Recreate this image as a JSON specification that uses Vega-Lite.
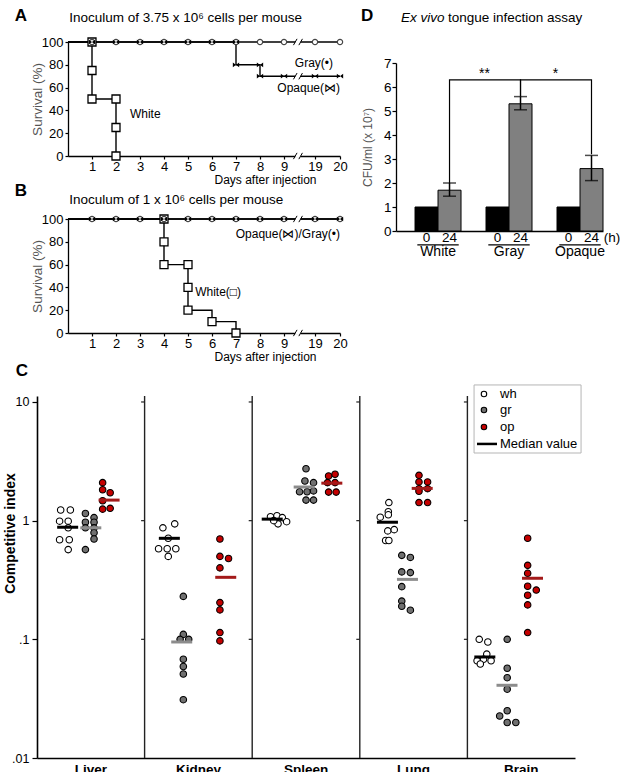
{
  "$schema": "https://vega.github.io/schema/vega-lite/v6.json",
  "background": "white",
  "padding": {"left": 3, "top": 6, "right": 0, "bottom": 0},
  "config": {
    "font": "Liberation Sans",
    "view": {"stroke": null},
    "axis": {"grid": false, "domainColor": "black", "tickColor": "black", "labelColor": "black", "titleColor": "black", "labelFont": "Liberation Sans", "titleFont": "Liberation Sans", "domainWidth": 1.3, "tickWidth": 1.2, "labelOverlap": false},
    "text": {"font": "Liberation Sans", "color": "black"}
  },
  "datasets": {
    "survA_steps": [
      {"strain": "White", "seq": 1, "day": 0, "pct": 100},
      {"strain": "White", "seq": 2, "day": 1, "pct": 100},
      {"strain": "White", "seq": 3, "day": 1, "pct": 50},
      {"strain": "White", "seq": 4, "day": 2, "pct": 50},
      {"strain": "White", "seq": 5, "day": 2, "pct": 0},
      {"strain": "Gray", "seq": 1, "day": 0, "pct": 100},
      {"strain": "Gray", "seq": 2, "day": 20, "pct": 100},
      {"strain": "Opaque", "seq": 1, "day": 0, "pct": 100},
      {"strain": "Opaque", "seq": 2, "day": 7, "pct": 100},
      {"strain": "Opaque", "seq": 3, "day": 7, "pct": 80},
      {"strain": "Opaque", "seq": 4, "day": 8, "pct": 80},
      {"strain": "Opaque", "seq": 5, "day": 8, "pct": 70},
      {"strain": "Opaque", "seq": 6, "day": 20, "pct": 70}
    ],
    "survA_obs": [
      {"strain": "White", "day": 1, "pct": 100},
      {"strain": "White", "day": 1, "pct": 75},
      {"strain": "White", "day": 1, "pct": 50},
      {"strain": "White", "day": 2, "pct": 50},
      {"strain": "White", "day": 2, "pct": 25},
      {"strain": "White", "day": 2, "pct": 0},
      {"strain": "Gray", "day": 1, "pct": 100},
      {"strain": "Gray", "day": 2, "pct": 100},
      {"strain": "Gray", "day": 3, "pct": 100},
      {"strain": "Gray", "day": 4, "pct": 100},
      {"strain": "Gray", "day": 5, "pct": 100},
      {"strain": "Gray", "day": 6, "pct": 100},
      {"strain": "Gray", "day": 7, "pct": 100},
      {"strain": "Gray", "day": 8, "pct": 100},
      {"strain": "Gray", "day": 9, "pct": 100},
      {"strain": "Gray", "day": 19, "pct": 100},
      {"strain": "Gray", "day": 20, "pct": 100},
      {"strain": "Opaque", "day": 1, "pct": 100},
      {"strain": "Opaque", "day": 2, "pct": 100},
      {"strain": "Opaque", "day": 3, "pct": 100},
      {"strain": "Opaque", "day": 4, "pct": 100},
      {"strain": "Opaque", "day": 5, "pct": 100},
      {"strain": "Opaque", "day": 6, "pct": 100},
      {"strain": "Opaque", "day": 7, "pct": 100},
      {"strain": "Opaque", "day": 7, "pct": 80},
      {"strain": "Opaque", "day": 8, "pct": 80},
      {"strain": "Opaque", "day": 8, "pct": 70},
      {"strain": "Opaque", "day": 9, "pct": 70},
      {"strain": "Opaque", "day": 19, "pct": 70},
      {"strain": "Opaque", "day": 20, "pct": 70}
    ],
    "survA_breaks": [
      {"day": 13.5, "pct": 0},
      {"day": 13.5, "pct": 70},
      {"day": 13.5, "pct": 100}
    ],
    "survB_steps": [
      {"strain": "White", "seq": 1, "day": 0, "pct": 100},
      {"strain": "White", "seq": 2, "day": 4, "pct": 100},
      {"strain": "White", "seq": 3, "day": 4, "pct": 60},
      {"strain": "White", "seq": 4, "day": 5, "pct": 60},
      {"strain": "White", "seq": 5, "day": 5, "pct": 20},
      {"strain": "White", "seq": 6, "day": 6, "pct": 20},
      {"strain": "White", "seq": 7, "day": 6, "pct": 10},
      {"strain": "White", "seq": 8, "day": 7, "pct": 10},
      {"strain": "White", "seq": 9, "day": 7, "pct": 0},
      {"strain": "Gray", "seq": 1, "day": 0, "pct": 100},
      {"strain": "Gray", "seq": 2, "day": 20, "pct": 100},
      {"strain": "Opaque", "seq": 1, "day": 0, "pct": 100},
      {"strain": "Opaque", "seq": 2, "day": 20, "pct": 100}
    ],
    "survB_obs": [
      {"strain": "White", "day": 4, "pct": 100},
      {"strain": "White", "day": 4, "pct": 80},
      {"strain": "White", "day": 4, "pct": 60},
      {"strain": "White", "day": 5, "pct": 60},
      {"strain": "White", "day": 5, "pct": 40},
      {"strain": "White", "day": 5, "pct": 20},
      {"strain": "White", "day": 6, "pct": 10},
      {"strain": "White", "day": 7, "pct": 0},
      {"strain": "Gray", "day": 1, "pct": 100},
      {"strain": "Gray", "day": 2, "pct": 100},
      {"strain": "Gray", "day": 3, "pct": 100},
      {"strain": "Gray", "day": 4, "pct": 100},
      {"strain": "Gray", "day": 5, "pct": 100},
      {"strain": "Gray", "day": 6, "pct": 100},
      {"strain": "Gray", "day": 7, "pct": 100},
      {"strain": "Gray", "day": 8, "pct": 100},
      {"strain": "Gray", "day": 9, "pct": 100},
      {"strain": "Gray", "day": 19, "pct": 100},
      {"strain": "Gray", "day": 20, "pct": 100},
      {"strain": "Opaque", "day": 1, "pct": 100},
      {"strain": "Opaque", "day": 2, "pct": 100},
      {"strain": "Opaque", "day": 3, "pct": 100},
      {"strain": "Opaque", "day": 4, "pct": 100},
      {"strain": "Opaque", "day": 5, "pct": 100},
      {"strain": "Opaque", "day": 6, "pct": 100},
      {"strain": "Opaque", "day": 7, "pct": 100},
      {"strain": "Opaque", "day": 8, "pct": 100},
      {"strain": "Opaque", "day": 9, "pct": 100},
      {"strain": "Opaque", "day": 19, "pct": 100},
      {"strain": "Opaque", "day": 20, "pct": 100}
    ],
    "survB_breaks": [
      {"day": 13.5, "pct": 0},
      {"day": 13.5, "pct": 100}
    ],
    "D_bars": [
      {"strain": "White", "time": "0", "cfu": 1},
      {"strain": "White", "time": "24", "cfu": 1.7, "lo": 1.45, "hi": 2.0},
      {"strain": "Gray", "time": "0", "cfu": 1},
      {"strain": "Gray", "time": "24", "cfu": 5.3, "lo": 5.05, "hi": 5.6},
      {"strain": "Opaque", "time": "0", "cfu": 1},
      {"strain": "Opaque", "time": "24", "cfu": 2.6, "lo": 2.1, "hi": 3.15}
    ],
    "D_sig": [
      {"pair": "W-G", "seq": 1, "strain": "White", "time": "24", "level": 2.0},
      {"pair": "W-G", "seq": 2, "strain": "White", "time": "24", "level": 6.3},
      {"pair": "W-G", "seq": 3, "strain": "Gray", "time": "24", "level": 6.3},
      {"pair": "W-G", "seq": 4, "strain": "Gray", "time": "24", "level": 5.6},
      {"pair": "G-O", "seq": 1, "strain": "Gray", "time": "24", "level": 5.6},
      {"pair": "G-O", "seq": 2, "strain": "Gray", "time": "24", "level": 6.3},
      {"pair": "G-O", "seq": 3, "strain": "Opaque", "time": "24", "level": 6.3},
      {"pair": "G-O", "seq": 4, "strain": "Opaque", "time": "24", "level": 3.2}
    ],
    "C_organs": [
      {"organ": "Kidney"}, {"organ": "Spleen"}, {"organ": "Lung"}, {"organ": "Brain"}
    ],
    "C_sepTicks": [
      {"organ": "Kidney", "ci": 10}, {"organ": "Kidney", "ci": 1}, {"organ": "Kidney", "ci": 0.1},
      {"organ": "Spleen", "ci": 10}, {"organ": "Spleen", "ci": 1}, {"organ": "Spleen", "ci": 0.1},
      {"organ": "Lung", "ci": 10}, {"organ": "Lung", "ci": 1}, {"organ": "Lung", "ci": 0.1},
      {"organ": "Brain", "ci": 10}, {"organ": "Brain", "ci": 1}, {"organ": "Brain", "ci": 0.1}
    ],
    "C_pts": [
      {"organ": "Liver", "strain": "wh", "ci": 1.23, "dx": 22},
      {"organ": "Liver", "strain": "wh", "ci": 1.23, "dx": 31},
      {"organ": "Liver", "strain": "wh", "ci": 0.99, "dx": 21},
      {"organ": "Liver", "strain": "wh", "ci": 0.99, "dx": 29},
      {"organ": "Liver", "strain": "wh", "ci": 0.87, "dx": 29},
      {"organ": "Liver", "strain": "wh", "ci": 0.69, "dx": 21},
      {"organ": "Liver", "strain": "wh", "ci": 0.69, "dx": 30},
      {"organ": "Liver", "strain": "wh", "ci": 0.57, "dx": 29},
      {"organ": "Liver", "strain": "gr", "ci": 1.15, "dx": 45},
      {"organ": "Liver", "strain": "gr", "ci": 1.06, "dx": 53},
      {"organ": "Liver", "strain": "gr", "ci": 0.97, "dx": 45},
      {"organ": "Liver", "strain": "gr", "ci": 0.97, "dx": 53},
      {"organ": "Liver", "strain": "gr", "ci": 0.87, "dx": 45},
      {"organ": "Liver", "strain": "gr", "ci": 0.87, "dx": 53},
      {"organ": "Liver", "strain": "gr", "ci": 0.79, "dx": 53},
      {"organ": "Liver", "strain": "gr", "ci": 0.70, "dx": 53},
      {"organ": "Liver", "strain": "gr", "ci": 0.57, "dx": 45},
      {"organ": "Liver", "strain": "op", "ci": 2.09, "dx": 61},
      {"organ": "Liver", "strain": "op", "ci": 1.82, "dx": 61},
      {"organ": "Liver", "strain": "op", "ci": 1.72, "dx": 68},
      {"organ": "Liver", "strain": "op", "ci": 1.47, "dx": 61},
      {"organ": "Liver", "strain": "op", "ci": 1.25, "dx": 61},
      {"organ": "Liver", "strain": "op", "ci": 1.27, "dx": 68},
      {"organ": "Kidney", "strain": "wh", "ci": 0.87, "dx": 17},
      {"organ": "Kidney", "strain": "wh", "ci": 0.94, "dx": 28},
      {"organ": "Kidney", "strain": "wh", "ci": 0.71, "dx": 22},
      {"organ": "Kidney", "strain": "wh", "ci": 0.58, "dx": 13},
      {"organ": "Kidney", "strain": "wh", "ci": 0.58, "dx": 21},
      {"organ": "Kidney", "strain": "wh", "ci": 0.58, "dx": 29},
      {"organ": "Kidney", "strain": "wh", "ci": 0.50, "dx": 22},
      {"organ": "Kidney", "strain": "gr", "ci": 0.23, "dx": 36},
      {"organ": "Kidney", "strain": "gr", "ci": 0.11, "dx": 36},
      {"organ": "Kidney", "strain": "gr", "ci": 0.10, "dx": 33},
      {"organ": "Kidney", "strain": "gr", "ci": 0.10, "dx": 41},
      {"organ": "Kidney", "strain": "gr", "ci": 0.068, "dx": 36},
      {"organ": "Kidney", "strain": "gr", "ci": 0.059, "dx": 36},
      {"organ": "Kidney", "strain": "gr", "ci": 0.051, "dx": 36},
      {"organ": "Kidney", "strain": "gr", "ci": 0.031, "dx": 36},
      {"organ": "Kidney", "strain": "op", "ci": 0.70, "dx": 70},
      {"organ": "Kidney", "strain": "op", "ci": 0.50, "dx": 70},
      {"organ": "Kidney", "strain": "op", "ci": 0.48, "dx": 78},
      {"organ": "Kidney", "strain": "op", "ci": 0.40, "dx": 70},
      {"organ": "Kidney", "strain": "op", "ci": 0.204, "dx": 70},
      {"organ": "Kidney", "strain": "op", "ci": 0.177, "dx": 70},
      {"organ": "Kidney", "strain": "op", "ci": 0.114, "dx": 70},
      {"organ": "Kidney", "strain": "op", "ci": 0.097, "dx": 70},
      {"organ": "Spleen", "strain": "wh", "ci": 1.08, "dx": 17},
      {"organ": "Spleen", "strain": "wh", "ci": 1.10, "dx": 23},
      {"organ": "Spleen", "strain": "wh", "ci": 1.06, "dx": 28},
      {"organ": "Spleen", "strain": "wh", "ci": 0.98, "dx": 32},
      {"organ": "Spleen", "strain": "wh", "ci": 0.94, "dx": 24},
      {"organ": "Spleen", "strain": "wh", "ci": 1.00, "dx": 20},
      {"organ": "Spleen", "strain": "gr", "ci": 2.74, "dx": 50},
      {"organ": "Spleen", "strain": "gr", "ci": 2.16, "dx": 49},
      {"organ": "Spleen", "strain": "gr", "ci": 2.09, "dx": 57},
      {"organ": "Spleen", "strain": "gr", "ci": 1.75, "dx": 44},
      {"organ": "Spleen", "strain": "gr", "ci": 1.75, "dx": 51},
      {"organ": "Spleen", "strain": "gr", "ci": 1.78, "dx": 57},
      {"organ": "Spleen", "strain": "gr", "ci": 1.49, "dx": 50},
      {"organ": "Spleen", "strain": "gr", "ci": 1.49, "dx": 57},
      {"organ": "Spleen", "strain": "op", "ci": 2.38, "dx": 71},
      {"organ": "Spleen", "strain": "op", "ci": 2.46, "dx": 77},
      {"organ": "Spleen", "strain": "op", "ci": 2.09, "dx": 70},
      {"organ": "Spleen", "strain": "op", "ci": 2.09, "dx": 77},
      {"organ": "Spleen", "strain": "op", "ci": 1.74, "dx": 71},
      {"organ": "Spleen", "strain": "op", "ci": 1.74, "dx": 78},
      {"organ": "Lung", "strain": "wh", "ci": 1.42, "dx": 27},
      {"organ": "Lung", "strain": "wh", "ci": 1.19, "dx": 26.5},
      {"organ": "Lung", "strain": "wh", "ci": 1.12, "dx": 26.5},
      {"organ": "Lung", "strain": "wh", "ci": 1.07, "dx": 19},
      {"organ": "Lung", "strain": "wh", "ci": 0.82, "dx": 26},
      {"organ": "Lung", "strain": "wh", "ci": 0.84, "dx": 32},
      {"organ": "Lung", "strain": "wh", "ci": 0.68, "dx": 24},
      {"organ": "Lung", "strain": "wh", "ci": 0.68, "dx": 27},
      {"organ": "Lung", "strain": "gr", "ci": 0.51, "dx": 39},
      {"organ": "Lung", "strain": "gr", "ci": 0.49, "dx": 47},
      {"organ": "Lung", "strain": "gr", "ci": 0.37, "dx": 39},
      {"organ": "Lung", "strain": "gr", "ci": 0.365, "dx": 47},
      {"organ": "Lung", "strain": "gr", "ci": 0.278, "dx": 39},
      {"organ": "Lung", "strain": "gr", "ci": 0.21, "dx": 39},
      {"organ": "Lung", "strain": "gr", "ci": 0.19, "dx": 39},
      {"organ": "Lung", "strain": "gr", "ci": 0.176, "dx": 47},
      {"organ": "Lung", "strain": "op", "ci": 2.41, "dx": 55},
      {"organ": "Lung", "strain": "op", "ci": 2.12, "dx": 55},
      {"organ": "Lung", "strain": "op", "ci": 2.12, "dx": 63},
      {"organ": "Lung", "strain": "op", "ci": 1.86, "dx": 55},
      {"organ": "Lung", "strain": "op", "ci": 1.86, "dx": 63},
      {"organ": "Lung", "strain": "op", "ci": 1.77, "dx": 55},
      {"organ": "Lung", "strain": "op", "ci": 1.42, "dx": 55},
      {"organ": "Lung", "strain": "op", "ci": 1.42, "dx": 63},
      {"organ": "Brain", "strain": "wh", "ci": 0.100, "dx": 11},
      {"organ": "Brain", "strain": "wh", "ci": 0.095, "dx": 19},
      {"organ": "Brain", "strain": "wh", "ci": 0.075, "dx": 18},
      {"organ": "Brain", "strain": "wh", "ci": 0.068, "dx": 15},
      {"organ": "Brain", "strain": "wh", "ci": 0.066, "dx": 9},
      {"organ": "Brain", "strain": "wh", "ci": 0.066, "dx": 22},
      {"organ": "Brain", "strain": "wh", "ci": 0.062, "dx": 12},
      {"organ": "Brain", "strain": "gr", "ci": 0.100, "dx": 37},
      {"organ": "Brain", "strain": "gr", "ci": 0.057, "dx": 37},
      {"organ": "Brain", "strain": "gr", "ci": 0.0475, "dx": 37},
      {"organ": "Brain", "strain": "gr", "ci": 0.038, "dx": 37},
      {"organ": "Brain", "strain": "gr", "ci": 0.025, "dx": 37},
      {"organ": "Brain", "strain": "gr", "ci": 0.0226, "dx": 30},
      {"organ": "Brain", "strain": "gr", "ci": 0.0199, "dx": 37},
      {"organ": "Brain", "strain": "gr", "ci": 0.0199, "dx": 45},
      {"organ": "Brain", "strain": "op", "ci": 0.71, "dx": 56},
      {"organ": "Brain", "strain": "op", "ci": 0.42, "dx": 56},
      {"organ": "Brain", "strain": "op", "ci": 0.36, "dx": 56},
      {"organ": "Brain", "strain": "op", "ci": 0.28, "dx": 56},
      {"organ": "Brain", "strain": "op", "ci": 0.26, "dx": 64},
      {"organ": "Brain", "strain": "op", "ci": 0.235, "dx": 56},
      {"organ": "Brain", "strain": "op", "ci": 0.195, "dx": 56},
      {"organ": "Brain", "strain": "op", "ci": 0.114, "dx": 56}
    ],
    "C_med": [
      {"organ": "Liver", "strain": "wh", "ci": 0.88, "dx": 28.5},
      {"organ": "Liver", "strain": "gr", "ci": 0.87, "dx": 50},
      {"organ": "Liver", "strain": "op", "ci": 1.49, "dx": 67},
      {"organ": "Kidney", "strain": "wh", "ci": 0.71, "dx": 23},
      {"organ": "Kidney", "strain": "gr", "ci": 0.095, "dx": 34.5},
      {"organ": "Kidney", "strain": "op", "ci": 0.333, "dx": 75.4},
      {"organ": "Spleen", "strain": "wh", "ci": 1.03, "dx": 18.6},
      {"organ": "Spleen", "strain": "gr", "ci": 1.92, "dx": 48.3},
      {"organ": "Spleen", "strain": "op", "ci": 2.07, "dx": 74},
      {"organ": "Lung", "strain": "wh", "ci": 0.97, "dx": 25.7},
      {"organ": "Lung", "strain": "gr", "ci": 0.32, "dx": 44.3},
      {"organ": "Lung", "strain": "op", "ci": 1.87, "dx": 58},
      {"organ": "Brain", "strain": "wh", "ci": 0.071, "dx": 16.2},
      {"organ": "Brain", "strain": "gr", "ci": 0.041, "dx": 36.8},
      {"organ": "Brain", "strain": "op", "ci": 0.327, "dx": 60.5}
    ]
  },
  "resolve": {"scale": {"xOffset": "independent", "color": "independent", "fill": "independent", "stroke": "independent"}},
  "bounds": "flush",
  "spacing": 63,
  "vconcat": [
    {
      "width": 272,
      "height": 114,
      "resolve": {"scale": {"x": "independent", "y": "independent"}, "axis": {"x": "independent", "y": "independent"}},
      "layer": [
        {
          "layer": [
            {
              "data": {"name": "survA_steps"},
              "mark": {"type": "line", "color": "black", "strokeWidth": 1.4},
              "encoding": {
                "x": {"field": "day", "type": "quantitative", "scale": {"domain": [0, 9, 19, 20], "range": [0, 216, 247, 272], "nice": false, "zero": false},
                      "axis": {"orient": "bottom", "values": [1, 2, 3, 4, 5, 6, 7, 8, 9, 19, 20], "format": "d", "tickCount": 30, "labelOverlap": false, "title": "Days after injection", "titleFontSize": 12, "titleFontWeight": "normal", "titleX": 197, "titleY": 23, "titleBaseline": "middle", "labelFontSize": 13, "tickSize": 3, "labelPadding": 1, "labelFlush": false}},
                "y": {"field": "pct", "type": "quantitative", "scale": {"domain": [0, 100], "nice": false},
                      "axis": {"orient": "left", "values": [0, 20, 40, 60, 80, 100], "format": "d", "tickCount": 30, "labelOverlap": false, "title": "Survival (%)", "titleFontSize": 13.5, "titleFontWeight": "normal", "titleColor": "#555", "titleX": -31, "titleBaseline": "middle", "labelFontSize": 13, "tickSize": 3, "labelPadding": 2}},
                "detail": {"field": "strain"},
                "order": {"field": "seq"}
              }
            },
            {
              "data": {"name": "survA_breaks"},
              "mark": {"type": "point", "shape": "M-0.6,-0.4H0.6V0.4H-0.6Z", "filled": true, "color": "white", "size": 81, "opacity": 1},
              "encoding": {"x": {"field": "day", "type": "quantitative"}, "y": {"field": "pct", "type": "quantitative"}}
            },
            {
              "data": {"name": "survA_breaks"},
              "mark": {"type": "point", "shape": "M-1,0.7L-0.2,-0.7M0.2,0.7L1,-0.7", "filled": false, "color": "black", "strokeWidth": 1, "size": 81, "opacity": 1},
              "encoding": {"x": {"field": "day", "type": "quantitative"}, "y": {"field": "pct", "type": "quantitative"}}
            },
            {
              "data": {"name": "survA_obs"},
              "transform": [{"filter": "datum.strain === 'White'"}],
              "mark": {"type": "point", "shape": "square", "filled": true, "fill": "white", "stroke": "black", "strokeWidth": 1.3, "size": 64, "opacity": 1},
              "encoding": {"x": {"field": "day", "type": "quantitative"}, "y": {"field": "pct", "type": "quantitative"}}
            },
            {
              "data": {"name": "survA_obs"},
              "transform": [{"filter": "datum.strain === 'Gray'"}],
              "mark": {"type": "point", "shape": "circle", "filled": true, "fill": "white", "stroke": "#444", "strokeWidth": 1.2, "size": 28, "opacity": 1},
              "encoding": {"x": {"field": "day", "type": "quantitative"}, "y": {"field": "pct", "type": "quantitative"}}
            },
            {
              "data": {"name": "survA_obs"},
              "transform": [{"filter": "datum.strain === 'Opaque'"}],
              "mark": {"type": "point", "shape": "M-1,-0.75L1,0.75L1,-0.75L-1,0.75Z", "filled": true, "color": "black", "size": 40, "opacity": 1},
              "encoding": {"x": {"field": "day", "type": "quantitative"}, "y": {"field": "pct", "type": "quantitative"}}
            },
            {
              "data": {"values": [{}]},
              "mark": {"type": "text", "text": "A", "fontSize": 17, "fontWeight": "bold", "align": "center", "baseline": "middle"},
              "encoding": {"x": {"datum": -1.96, "type": "quantitative"}, "y": {"datum": 122.8, "type": "quantitative"}}
            },
            {
              "data": {"values": [{}]},
              "mark": {"type": "text", "text": "Inoculum of  3.75 x 10⁶ cells per mouse", "fontSize": 13.5, "align": "left", "baseline": "middle"},
              "encoding": {"x": {"datum": 0.05, "type": "quantitative"}, "y": {"datum": 121, "type": "quantitative"}}
            },
            {
              "data": {"values": [{}]},
              "mark": {"type": "text", "text": "Gray(•)", "fontSize": 12, "align": "right", "baseline": "middle"},
              "encoding": {"x": {"datum": 19.72, "type": "quantitative"}, "y": {"datum": 81.5, "type": "quantitative"}}
            },
            {
              "data": {"values": [{}]},
              "mark": {"type": "text", "text": "Opaque(⋈)", "fontSize": 12, "align": "right", "baseline": "middle"},
              "encoding": {"x": {"datum": 20, "type": "quantitative"}, "y": {"datum": 59.6, "type": "quantitative"}}
            },
            {
              "data": {"values": [{}]},
              "mark": {"type": "text", "text": "White", "fontSize": 12, "align": "left", "baseline": "middle"},
              "encoding": {"x": {"datum": 2.58, "type": "quantitative"}, "y": {"datum": 36.8, "type": "quantitative"}}
            }
          ]
        },
        {
          "layer": [
            {
              "data": {"name": "D_bars"},
              "mark": {"type": "bar", "stroke": "black", "strokeWidth": 1},
              "encoding": {
                "x": {"field": "strain", "type": "nominal", "scale": {"domain": ["White", "Gray", "Opaque"], "range": [328, 535], "paddingInner": 0.352, "paddingOuter": 0.134, "align": 1},
                      "axis": {"orient": "bottom", "offset": 75, "labels": false, "ticks": false, "title": null, "domainWidth": 1.3}},
                "xOffset": {"field": "time", "type": "nominal", "scale": {"domain": ["0", "24"], "paddingInner": 0, "paddingOuter": 0}},
                "y": {"field": "cfu", "type": "quantitative", "scale": {"domain": [0, 7], "range": [189, 21], "nice": false},
                      "axis": {"orient": "left", "offset": -328, "values": [0, 1, 2, 3, 4, 5, 6, 7], "format": "d", "tickCount": 30, "labelOverlap": false, "title": "CFU/ml (x 10⁷)", "titleFontSize": 12, "titleFontWeight": "normal", "titleColor": "#555", "titleX": -29, "titleY": 105, "titleBaseline": "middle", "labelFontSize": 13.5, "tickSize": 4, "labelPadding": 1}},
                "color": {"field": "time", "type": "nominal", "scale": {"domain": ["0", "24"], "range": ["black", "#808080"]}, "legend": null}
              }
            },
            {
              "data": {"name": "D_bars"},
              "transform": [{"filter": "datum.lo != null"}],
              "mark": {"type": "rule", "color": "black", "strokeWidth": 1.5},
              "encoding": {
                "x": {"field": "strain", "type": "nominal"},
                "xOffset": {"field": "time", "type": "nominal"},
                "y": {"field": "lo", "type": "quantitative"},
                "y2": {"field": "hi"}
              }
            },
            {
              "data": {"name": "D_bars"},
              "transform": [{"filter": "datum.lo != null"}],
              "mark": {"type": "tick", "orient": "horizontal", "color": "black", "size": 13, "thickness": 1.5},
              "encoding": {
                "x": {"field": "strain", "type": "nominal"},
                "xOffset": {"field": "time", "type": "nominal"},
                "y": {"field": "lo", "type": "quantitative"}
              }
            },
            {
              "data": {"name": "D_bars"},
              "transform": [{"filter": "datum.lo != null"}],
              "mark": {"type": "tick", "orient": "horizontal", "color": "black", "size": 13, "thickness": 1.5},
              "encoding": {
                "x": {"field": "strain", "type": "nominal"},
                "xOffset": {"field": "time", "type": "nominal"},
                "y": {"field": "hi", "type": "quantitative"}
              }
            },
            {
              "data": {"name": "D_sig"},
              "mark": {"type": "line", "color": "black", "strokeWidth": 1.2},
              "encoding": {
                "x": {"field": "strain", "type": "nominal"},
                "xOffset": {"field": "time", "type": "nominal"},
                "y": {"field": "level", "type": "quantitative"},
                "detail": {"field": "pair"},
                "order": {"field": "seq"}
              }
            },
            {
              "data": {"values": [{}]},
              "mark": {"type": "text", "text": "**", "fontSize": 14, "align": "center", "baseline": "middle", "dx": 35},
              "encoding": {"x": {"datum": "White", "type": "nominal"}, "xOffset": {"datum": "24", "type": "nominal"}, "y": {"datum": 6.55, "type": "quantitative"}}
            },
            {
              "data": {"values": [{}]},
              "mark": {"type": "text", "text": "*", "fontSize": 14, "align": "center", "baseline": "middle", "dx": 35},
              "encoding": {"x": {"datum": "Gray", "type": "nominal"}, "xOffset": {"datum": "24", "type": "nominal"}, "y": {"datum": 6.55, "type": "quantitative"}}
            },
            {
              "data": {"name": "D_bars"},
              "mark": {"type": "text", "fontSize": 13.5, "align": "center", "baseline": "middle"},
              "encoding": {
                "x": {"field": "strain", "type": "nominal"},
                "xOffset": {"field": "time", "type": "nominal"},
                "y": {"datum": -0.3, "type": "quantitative"},
                "text": {"field": "time"}
              }
            },
            {
              "data": {"name": "D_bars"},
              "transform": [{"filter": "datum.time === '0'"}],
              "mark": {"type": "bar", "color": "black", "width": {"band": 0.9}},
              "encoding": {
                "x": {"field": "strain", "type": "nominal"},
                "y": {"datum": -0.55, "type": "quantitative"},
                "y2": {"datum": -0.6}
              }
            },
            {
              "data": {"name": "D_bars"},
              "transform": [{"filter": "datum.time === '0'"}],
              "mark": {"type": "text", "fontSize": 14, "align": "center", "baseline": "middle"},
              "encoding": {
                "x": {"field": "strain", "type": "nominal"},
                "y": {"datum": -0.87, "type": "quantitative"},
                "text": {"field": "strain"}
              }
            },
            {
              "data": {"values": [{}]},
              "mark": {"type": "text", "text": "(h)", "fontSize": 13.5, "align": "center", "baseline": "middle", "dx": 20.5},
              "encoding": {"x": {"datum": "Opaque", "type": "nominal"}, "xOffset": {"datum": "24", "type": "nominal"}, "y": {"datum": -0.3, "type": "quantitative"}}
            },
            {
              "data": {"values": [{}]},
              "mark": {"type": "text", "text": "D", "fontSize": 17, "fontWeight": "bold", "align": "center", "baseline": "middle", "dx": -71},
              "encoding": {"x": {"datum": "White", "type": "nominal"}, "y": {"datum": 8.96, "type": "quantitative"}}
            },
            {
              "data": {"values": [{}]},
              "mark": {"type": "text", "text": "Ex vivo", "fontSize": 13.5, "fontStyle": "italic", "align": "left", "baseline": "middle", "dx": -108},
              "encoding": {"x": {"datum": "Gray", "type": "nominal"}, "y": {"datum": 8.89, "type": "quantitative"}}
            },
            {
              "data": {"values": [{}]},
              "mark": {"type": "text", "text": "tongue infection assay", "fontSize": 13.5, "align": "left", "baseline": "middle", "dx": -61},
              "encoding": {"x": {"datum": "Gray", "type": "nominal"}, "y": {"datum": 8.89, "type": "quantitative"}}
            }
          ]
        }
      ]
    },
    {
      "width": 272,
      "height": 114,
      "layer": [
        {
          "data": {"name": "survB_steps"},
          "mark": {"type": "line", "color": "black", "strokeWidth": 1.4},
          "encoding": {
            "x": {"field": "day", "type": "quantitative", "scale": {"domain": [0, 9, 19, 20], "range": [0, 216, 247, 272], "nice": false, "zero": false},
                  "axis": {"values": [1, 2, 3, 4, 5, 6, 7, 8, 9, 19, 20], "format": "d", "tickCount": 30, "labelOverlap": false, "title": "Days after injection", "titleFontSize": 12, "titleFontWeight": "normal", "titleX": 197, "titleY": 23, "titleBaseline": "middle", "labelFontSize": 13, "tickSize": 3, "labelPadding": 1, "labelFlush": false}},
            "y": {"field": "pct", "type": "quantitative", "scale": {"domain": [0, 100], "nice": false},
                  "axis": {"values": [0, 20, 40, 60, 80, 100], "format": "d", "tickCount": 30, "labelOverlap": false, "title": "Survival (%)", "titleFontSize": 13.5, "titleFontWeight": "normal", "titleColor": "#555", "titleX": -31, "titleBaseline": "middle", "labelFontSize": 13, "tickSize": 3, "labelPadding": 2}},
            "detail": {"field": "strain"},
            "order": {"field": "seq"}
          }
        },
        {
          "data": {"name": "survB_breaks"},
          "mark": {"type": "point", "shape": "M-0.6,-0.4H0.6V0.4H-0.6Z", "filled": true, "color": "white", "size": 81, "opacity": 1},
          "encoding": {"x": {"field": "day", "type": "quantitative"}, "y": {"field": "pct", "type": "quantitative"}}
        },
        {
          "data": {"name": "survB_breaks"},
          "mark": {"type": "point", "shape": "M-1,0.7L-0.2,-0.7M0.2,0.7L1,-0.7", "filled": false, "color": "black", "strokeWidth": 1, "size": 81, "opacity": 1},
          "encoding": {"x": {"field": "day", "type": "quantitative"}, "y": {"field": "pct", "type": "quantitative"}}
        },
        {
          "data": {"name": "survB_obs"},
          "transform": [{"filter": "datum.strain === 'White'"}],
          "mark": {"type": "point", "shape": "square", "filled": true, "fill": "white", "stroke": "black", "strokeWidth": 1.3, "size": 64, "opacity": 1},
          "encoding": {"x": {"field": "day", "type": "quantitative"}, "y": {"field": "pct", "type": "quantitative"}}
        },
        {
          "data": {"name": "survB_obs"},
          "transform": [{"filter": "datum.strain === 'Gray'"}],
          "mark": {"type": "point", "shape": "circle", "filled": true, "fill": "white", "stroke": "#444", "strokeWidth": 1.2, "size": 28, "opacity": 1},
          "encoding": {"x": {"field": "day", "type": "quantitative"}, "y": {"field": "pct", "type": "quantitative"}}
        },
        {
          "data": {"name": "survB_obs"},
          "transform": [{"filter": "datum.strain === 'Opaque'"}],
          "mark": {"type": "point", "shape": "M-1,-0.75L1,0.75L1,-0.75L-1,0.75Z", "filled": true, "color": "black", "size": 40, "opacity": 1},
          "encoding": {"x": {"field": "day", "type": "quantitative"}, "y": {"field": "pct", "type": "quantitative"}}
        },
        {
          "data": {"values": [{}]},
          "mark": {"type": "text", "text": "B", "fontSize": 17, "fontWeight": "bold", "align": "center", "baseline": "middle"},
          "encoding": {"x": {"datum": -1.96, "type": "quantitative"}, "y": {"datum": 124.6, "type": "quantitative"}}
        },
        {
          "data": {"values": [{}]},
          "mark": {"type": "text", "text": "Inoculum of  1 x 10⁶ cells per mouse", "fontSize": 13.5, "align": "left", "baseline": "middle"},
          "encoding": {"x": {"datum": 0.05, "type": "quantitative"}, "y": {"datum": 116.7, "type": "quantitative"}}
        },
        {
          "data": {"values": [{}]},
          "mark": {"type": "text", "text": "Opaque(⋈)/Gray(•)", "fontSize": 12, "align": "right", "baseline": "middle"},
          "encoding": {"x": {"datum": 20, "type": "quantitative"}, "y": {"datum": 87, "type": "quantitative"}}
        },
        {
          "data": {"values": [{}]},
          "mark": {"type": "text", "text": "White(□)", "fontSize": 12, "align": "left", "baseline": "middle"},
          "encoding": {"x": {"datum": 5.3, "type": "quantitative"}, "y": {"datum": 36.2, "type": "quantitative"}}
        }
      ]
    },
    {
      "width": 507,
      "height": 362,
      "layer": [
        {
          "data": {"name": "C_organs"},
          "mark": {"type": "rule", "color": "#222", "strokeWidth": 1.4},
          "encoding": {
            "x": {"field": "organ", "type": "nominal", "bandPosition": 0, "scale": {"domain": ["Liver", "Kidney", "Spleen", "Lung", "Brain"], "range": [-31, 507], "paddingInner": 0, "paddingOuter": 0},
                  "axis": {"title": null, "ticks": false, "labelFontSize": 13.5, "labelFontWeight": "bold", "labelPadding": 4, "labelAngle": 0, "labelBaseline": "top", "domainWidth": 1.6}},
            "y": {"datum": 0.01, "type": "quantitative", "scale": {"type": "log", "domain": [0.01, 11.23], "nice": false},
                  "axis": {"values": [0.01, 0.1, 1, 10], "tickCount": 30, "labelOverlap": false, "offset": 31, "labelExpr": "datum.value >= 1 ? format(datum.value, 'd') : replace(format(datum.value, '.2~f'), '0.', '.')", "labelFontSize": 12.5, "tickSize": 5, "labelPadding": 3, "title": "Competitive index", "titleFontSize": 14, "titleFontWeight": "bold", "titleX": -27, "titleY": 137, "titleBaseline": "middle", "domainWidth": 1.6}},
            "y2": {"datum": 11.23}
          }
        },
        {
          "data": {"name": "C_sepTicks"},
          "mark": {"type": "point", "shape": "M-1,0H0", "filled": false, "color": "#222", "strokeWidth": 1.2, "size": 49, "opacity": 1},
          "encoding": {
            "x": {"field": "organ", "type": "nominal", "bandPosition": 0},
            "y": {"field": "ci", "type": "quantitative"}
          }
        },
        {
          "data": {"name": "C_pts"},
          "mark": {"type": "point", "filled": true, "stroke": "black", "strokeWidth": 1.1, "size": 42, "opacity": 1},
          "encoding": {
            "x": {"field": "organ", "type": "nominal"},
            "xOffset": {"field": "dx", "type": "quantitative", "scale": {"domain": [0, 100]}},
            "y": {"field": "ci", "type": "quantitative"},
            "fill": {"field": "strain", "type": "nominal", "scale": {"domain": ["wh", "gr", "op"], "range": ["white", "#707070", "#c50000"]}, "legend": null}
          }
        },
        {
          "data": {"name": "C_med"},
          "mark": {"type": "point", "shape": "stroke", "filled": false, "strokeWidth": 3, "size": 441, "opacity": 1},
          "encoding": {
            "x": {"field": "organ", "type": "nominal"},
            "xOffset": {"field": "dx", "type": "quantitative"},
            "y": {"field": "ci", "type": "quantitative"},
            "stroke": {"field": "strain", "type": "nominal", "scale": {"domain": ["wh", "gr", "op"], "range": ["black", "#8c8c8c", "#a31a1a"]}, "legend": null}
          }
        },
        {
          "data": {"values": [{}]},
          "mark": {"type": "point", "shape": "M-1,-0.636H1V0.636H-1Z", "filled": false, "stroke": "#b5b5b5", "strokeWidth": 1, "size": 11449, "opacity": 1},
          "encoding": {"x": {"datum": "Brain", "type": "nominal"}, "xOffset": {"datum": 55.9, "type": "quantitative"}, "y": {"datum": 7.19, "type": "quantitative"}}
        },
        {
          "data": {"values": [{}]},
          "mark": {"type": "point", "filled": true, "stroke": "black", "strokeWidth": 1.1, "size": 30, "opacity": 1},
          "encoding": {"x": {"datum": "Brain", "type": "nominal"}, "xOffset": {"datum": 15.4, "type": "quantitative"}, "y": {"datum": 11.68, "type": "quantitative"}, "fill": {"datum": "wh", "type": "nominal"}}
        },
        {
          "data": {"values": [{}]},
          "mark": {"type": "point", "filled": true, "stroke": "black", "strokeWidth": 1.1, "size": 30, "opacity": 1},
          "encoding": {"x": {"datum": "Brain", "type": "nominal"}, "xOffset": {"datum": 15.4, "type": "quantitative"}, "y": {"datum": 8.56, "type": "quantitative"}, "fill": {"datum": "gr", "type": "nominal"}}
        },
        {
          "data": {"values": [{}]},
          "mark": {"type": "point", "filled": true, "stroke": "black", "strokeWidth": 1.1, "size": 30, "opacity": 1},
          "encoding": {"x": {"datum": "Brain", "type": "nominal"}, "xOffset": {"datum": 15.4, "type": "quantitative"}, "y": {"datum": 6.16, "type": "quantitative"}, "fill": {"datum": "op", "type": "nominal"}}
        },
        {
          "data": {"values": [{}]},
          "mark": {"type": "point", "shape": "stroke", "filled": false, "stroke": "black", "strokeWidth": 2.5, "size": 400, "opacity": 1},
          "encoding": {"x": {"datum": "Brain", "type": "nominal"}, "xOffset": {"datum": 18.2, "type": "quantitative"}, "y": {"datum": 4.43, "type": "quantitative"}}
        },
        {
          "data": {"values": [{}]},
          "mark": {"type": "text", "text": "wh", "fontSize": 13, "align": "left", "baseline": "middle"},
          "encoding": {"x": {"datum": "Brain", "type": "nominal"}, "xOffset": {"datum": 30.3, "type": "quantitative"}, "y": {"datum": 11.68, "type": "quantitative"}}
        },
        {
          "data": {"values": [{}]},
          "mark": {"type": "text", "text": "gr", "fontSize": 13, "align": "left", "baseline": "middle"},
          "encoding": {"x": {"datum": "Brain", "type": "nominal"}, "xOffset": {"datum": 30.3, "type": "quantitative"}, "y": {"datum": 8.56, "type": "quantitative"}}
        },
        {
          "data": {"values": [{}]},
          "mark": {"type": "text", "text": "op", "fontSize": 13, "align": "left", "baseline": "middle"},
          "encoding": {"x": {"datum": "Brain", "type": "nominal"}, "xOffset": {"datum": 30.3, "type": "quantitative"}, "y": {"datum": 6.16, "type": "quantitative"}}
        },
        {
          "data": {"values": [{}]},
          "mark": {"type": "text", "text": "Median value", "fontSize": 13, "align": "left", "baseline": "middle"},
          "encoding": {"x": {"datum": "Brain", "type": "nominal"}, "xOffset": {"datum": 30.3, "type": "quantitative"}, "y": {"datum": 4.43, "type": "quantitative"}}
        },
        {
          "data": {"values": [{}]},
          "mark": {"type": "text", "text": "C", "fontSize": 17, "fontWeight": "bold", "align": "center", "baseline": "middle", "dx": -15},
          "encoding": {"x": {"datum": "Liver", "type": "nominal", "bandPosition": 0}, "y": {"datum": 18.2, "type": "quantitative"}}
        }
      ]
    }
  ]
}
